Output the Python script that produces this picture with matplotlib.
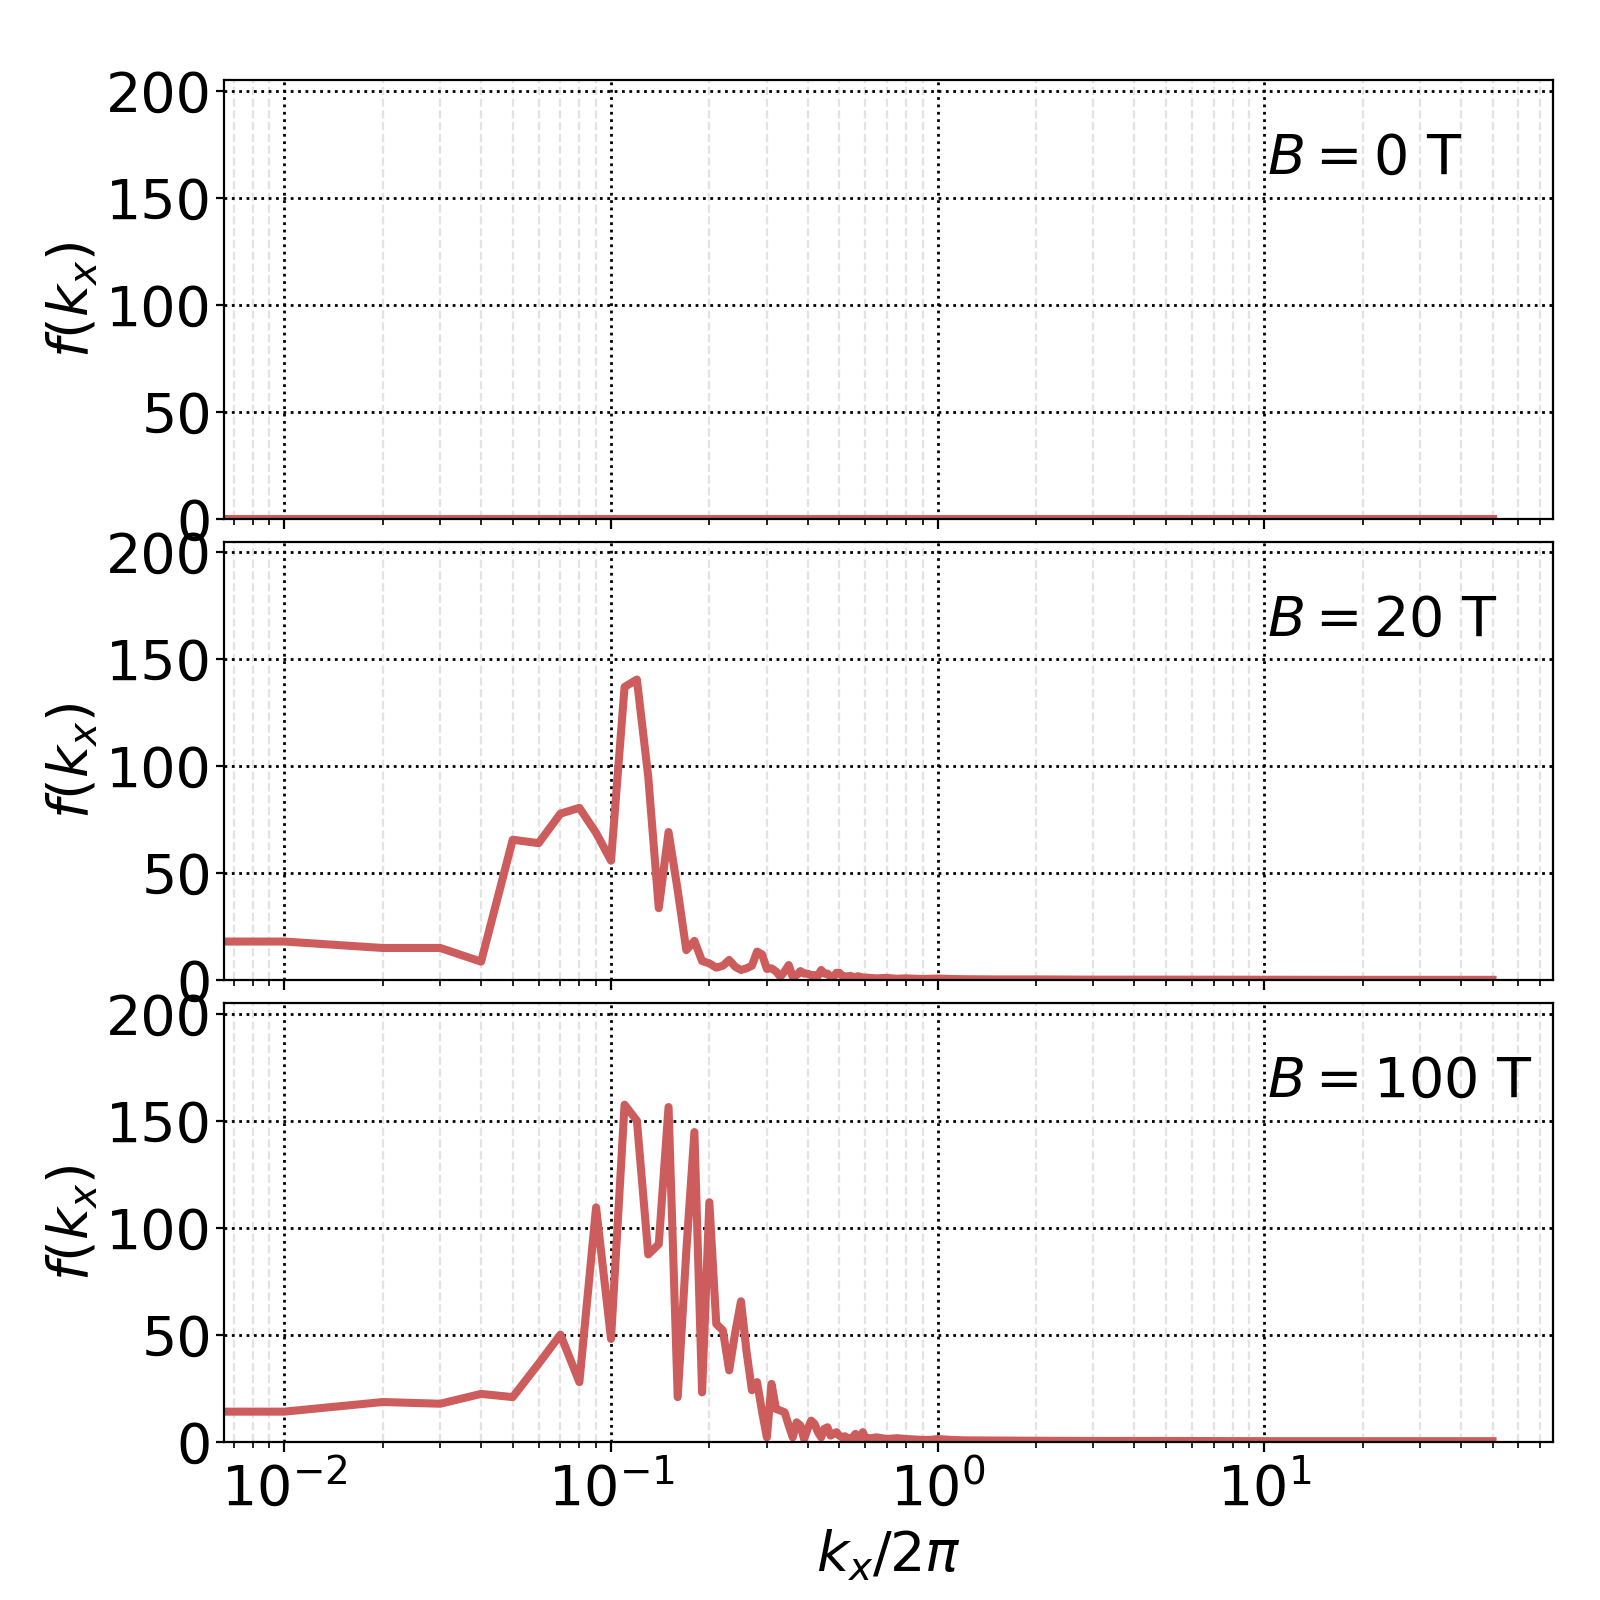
import numpy as np
import matplotlib
matplotlib.use("Agg")
import matplotlib.pyplot as plt

kx = [0.0, 0.01, 0.02, 0.03, 0.04, 0.05, 0.06, 0.07, 0.08, 0.09,
      0.10, 0.11, 0.12, 0.13, 0.14, 0.15, 0.16, 0.17, 0.18, 0.19,
      0.20, 0.21, 0.22, 0.23, 0.24, 0.25, 0.26, 0.27, 0.28, 0.29,
      0.30, 0.31, 0.32, 0.33, 0.34, 0.35, 0.36, 0.37, 0.38, 0.39,
      0.40, 0.41, 0.42, 0.43, 0.44, 0.45, 0.46, 0.47, 0.48, 0.49,
      0.50, 0.51, 0.52, 0.53, 0.54, 0.55, 0.56, 0.57, 0.58, 0.59,
      0.60, 0.62, 0.65, 0.70, 0.75, 0.80, 0.85, 0.90, 0.95, 1.0,
      1.1, 1.2, 1.5, 2.0, 3.0, 5.0, 10.0, 20.0, 30.0, 50.0]

f_B0 = [0.0] * len(kx)

f_B20 = [18, 18, 15, 15, 8.6, 65.6, 64, 77.8, 80.5, 68.8,
         55.8, 137, 140.5, 95, 33.6, 69.2, 42, 14, 18.3, 8.9,
         7.8, 5.8, 6.7, 9.4, 6.2, 4.7, 5.5, 6.7, 13.3, 12,
         5.2, 5.5, 4, 1.6, 4, 7, 1.5, 2.3, 4.2, 3,
         3, 2.3, 2.3, 2, 4.7, 3, 3, 1.5, 1.5, 3.4,
         3.4, 2, 1.8, 1.5, 2.0, 1.5, 1.2, 1.8, 1.5, 1.0,
         1.2, 1.0, 0.8, 1.0, 0.6, 0.8, 0.6, 0.5, 0.6, 0.7,
         0.5, 0.4, 0.3, 0.3, 0.2, 0.2, 0.15, 0.1, 0.1, 0.1]

f_B100 = [14, 14, 18.5, 17.7, 22.3, 20.8, 36.4, 50, 27.8, 109.5,
          48, 157.5, 150, 87.5, 92.3, 156.4, 20.8, 89, 144.7, 23,
          111.9, 55, 52, 33.3, 51, 65.6, 42, 24, 27.8, 14,
          2, 27, 15.3, 14.5, 13.7, 7.5, 2, 9, 7.5, 1.2,
          6, 9.8, 8.3, 4.4, 2, 6, 6.7, 2.8, 3.6, 4.4,
          2.8, 2, 2.5, 1.6, 1.5, 2, 3.6, 1.6, 2, 4.4,
          2, 1.5, 2.0, 1.2, 1.6, 1.2, 1.0, 0.8, 0.8, 1.2,
          0.8, 0.6, 0.5, 0.4, 0.3, 0.3, 0.2, 0.2, 0.2, 0.2]

series = [f_B0, f_B20, f_B100]
labels = [r'$B = 0$ T', r'$B = 20$ T', r'$B = 100$ T']
yticks = [0, 50, 100, 150, 200]

FS = 20
fig, axes = plt.subplots(3, 1, figsize=(8, 8), dpi=200, sharex=True)
fig.subplots_adjust(left=0.14, right=0.9706, top=0.95, bottom=0.099, hspace=0.0525)

for ax, y, lab in zip(axes, series, labels):
    ax.plot(kx, y, color='#CD5C5C', lw=2.9)
    ax.set_xscale('log')
    ax.set_xlim(10 ** (-2 - 0.185), 10 ** (np.log10(50) + 0.185))
    ax.set_ylim(0, 205)
    ax.set_yticks(yticks)
    ax.grid(True, which='major', color='k', linestyle=':', linewidth=1.0)
    ax.grid(True, which='minor', axis='x', color='#e3e3e3', linestyle='--', linewidth=0.8)
    ax.tick_params(axis='both', which='major', labelsize=FS)
    ax.tick_params(axis='y', which='major', length=2.9, pad=1.4)
    ax.set_ylabel(r'$f(k_x)$', fontsize=FS, labelpad=2.3)
    ax.text(0.785, 0.82, lab, transform=ax.transAxes, fontsize=FS,
            ha='left', va='center')

axes[-1].set_xlabel(r'$k_x/2\pi$', fontsize=FS)

fig.savefig('out.png', dpi=200)
